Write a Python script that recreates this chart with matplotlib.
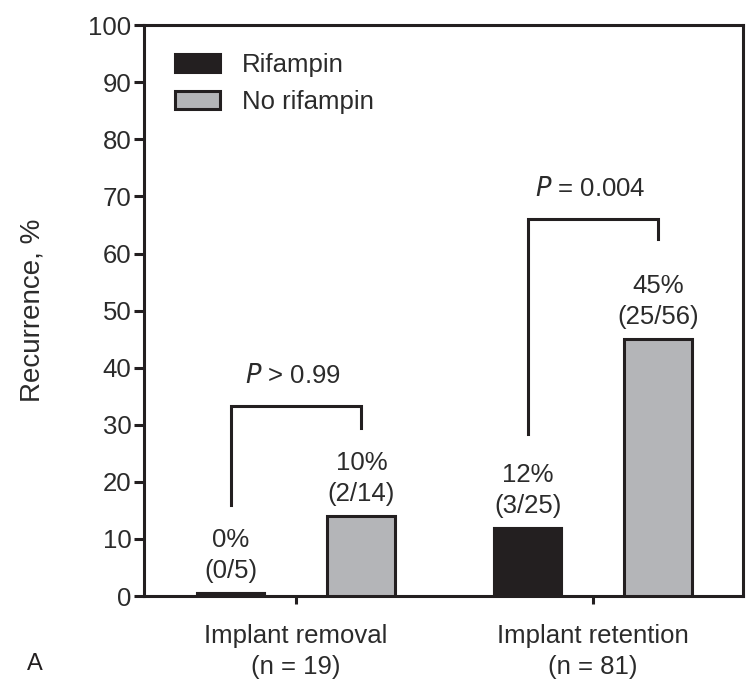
import matplotlib
matplotlib.use("Agg")
import matplotlib.pyplot as plt
import numpy as np
from matplotlib.patches import Patch

plt.rcParams['font.family'] = ['Liberation Sans', 'DejaVu Sans']

categories = ["Implant removal\n(n = 19)", "Implant retention\n(n = 81)"]
series_names = ["Rifampin", "No rifampin"]
rifampin = [0.6, 12]
no_rifampin = [14, 45]
rif_labels = ["0%\n(0/5)", "12%\n(3/25)"]
norif_labels = ["10%\n(2/14)", "45%\n(25/56)"]
p_texts = ["$P$ > 0.99", "$P$ = 0.004"]
bracket_top = [33.3, 66.1]
bracket_left_bottom = [16, 28.4]
bracket_right_bottom = [29.5, 62.6]

DARK = "#231f20"
GRAY = "#b4b5b8"
TXT = "#2b2b2b"

fig = plt.figure(figsize=(7.46, 6.8), dpi=100)
ax = fig.add_axes([0.193, 0.1235, 0.803, 0.8395])

x = np.arange(len(categories))
off = 0.22
w = 0.229
ax.bar(x - off, rifampin, w, color=DARK, edgecolor=DARK, linewidth=1.5, zorder=3)
ax.bar(x + off, no_rifampin, w, color=GRAY, edgecolor=DARK, linewidth=2.2, zorder=3)

fs = 18.5
for i in range(len(categories)):
    ax.text(x[i] - off, max(rifampin[i], 0) + 1.7, rif_labels[i], ha='center', va='bottom',
            fontsize=fs, color=TXT, linespacing=1.37)
    ax.text(x[i] + off, no_rifampin[i] + 1.7, norif_labels[i], ha='center', va='bottom',
            fontsize=fs, color=TXT, linespacing=1.37)
    xl, xr = x[i] - off, x[i] + off
    ax.plot([xl, xl, xr, xr], [bracket_left_bottom[i], bracket_top[i], bracket_top[i], bracket_right_bottom[i]],
            color=DARK, lw=2.2, solid_joinstyle='miter', zorder=4)
    ax.text(x[i] - 0.01, bracket_top[i] + 5.2, p_texts[i], ha='center', va='center',
            fontsize=fs, color=TXT)

ax.set_xlim(-0.512, 1.505)
ax.set_ylim(0, 100)
ax.set_yticks(np.arange(0, 101, 10))
ax.set_xticks(x)
ax.set_xticklabels(categories, fontsize=fs, color=TXT, linespacing=1.37)
ax.tick_params(axis='y', labelsize=fs, labelcolor=TXT, length=7, width=2.2, color=DARK, pad=2)
ax.tick_params(axis='x', length=6, width=2.2, color=DARK, pad=14)
for s in ax.spines.values():
    s.set_linewidth(2.2)
    s.set_color(DARK)
ax.set_ylabel("Recurrence, %", fontsize=20, color=TXT, labelpad=31)

handles = [Patch(facecolor=DARK, edgecolor=DARK, linewidth=2.2),
           Patch(facecolor=GRAY, edgecolor=DARK, linewidth=2.2)]
leg = ax.legend(handles, series_names, loc='upper left', bbox_to_anchor=(0.052, 0.951),
                frameon=False, fontsize=fs, handlelength=1.75, handleheight=0.72,
                labelspacing=0.5, handletextpad=0.85, borderpad=0, borderaxespad=0,
                labelcolor=TXT)

fig.text(0.047, 0.008, "A", fontsize=17, color=DARK, ha='center', va='bottom')

fig.savefig("out.png", dpi=100)
